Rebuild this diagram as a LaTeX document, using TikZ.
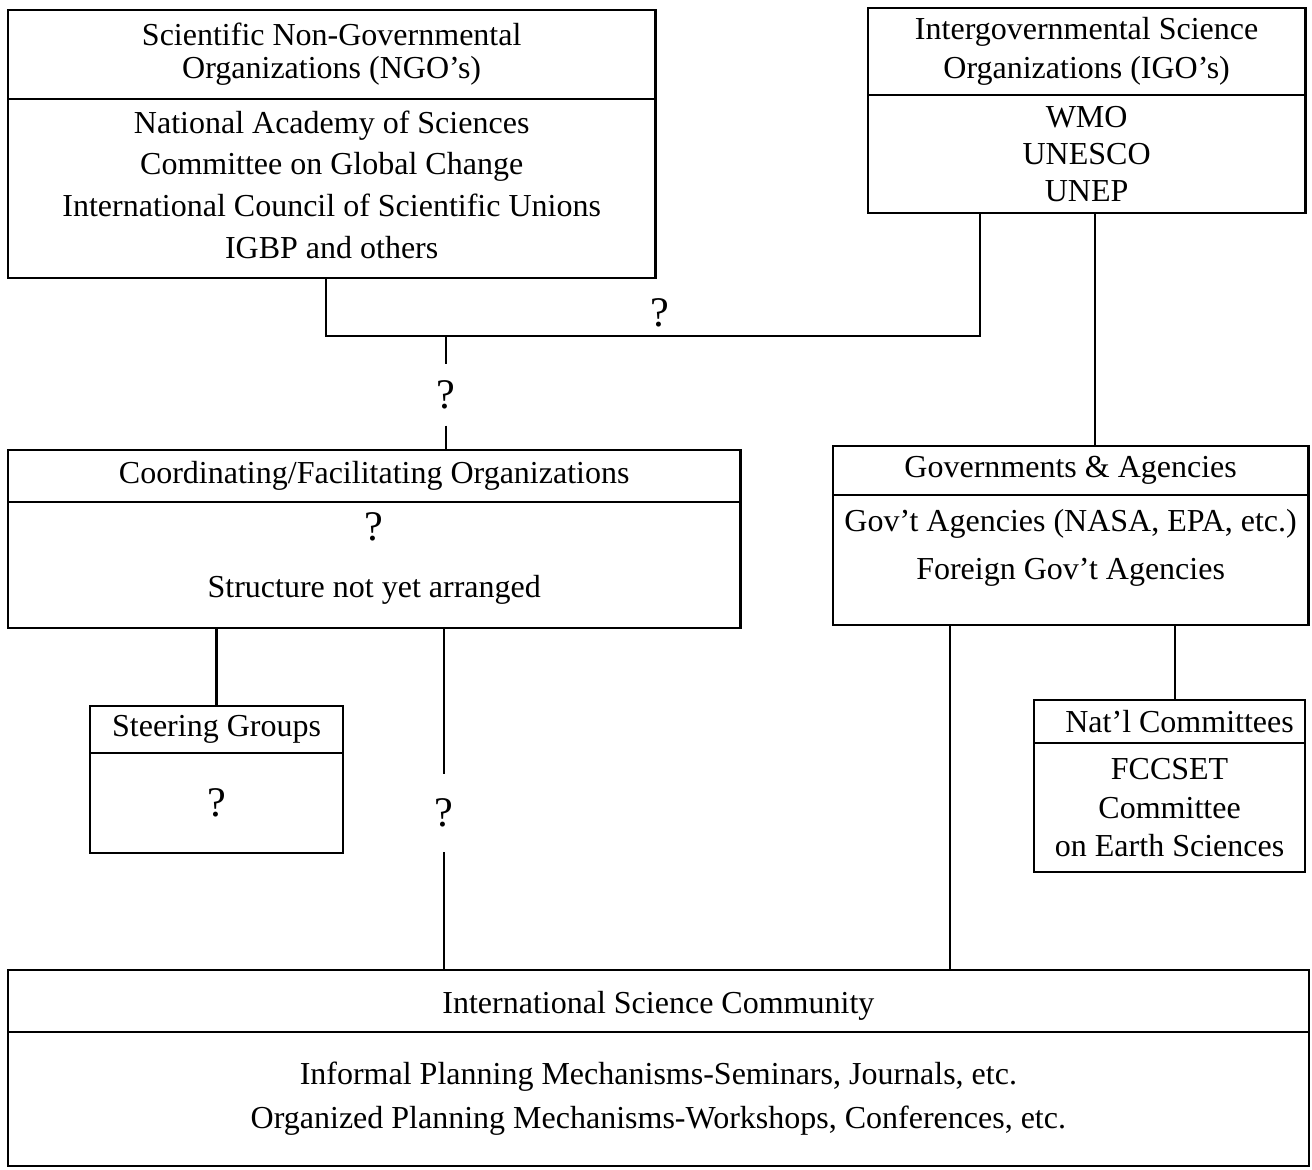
\documentclass[tikz,border=0pt]{standalone}
\usepackage{fontspec}
\setmainfont{Liberation Serif}
\usetikzlibrary{positioning}
\tikzset{%
  box/.style = {rectangle,draw,line width=0.7pt,align=center,inner sep=0pt,
        outer sep=0pt,font=\fontsize{9.1}{11}\selectfont},
  hd/.style = {box,anchor=north west},
  qm/.style = {inner sep=0pt,font=\large},
  link/.style = {line width=0.7pt}
}

\begin{document}
\begin{tikzpicture}[x=0.01cm,y=-0.01cm]
\useasboundingbox (0,0) rectangle (1312,1169);
% top row
\node[hd,minimum width=6.47cm,minimum height=0.89cm] (ngoh) at (8,10)
    {Scientific Non-Governmental\\[-1.6pt]Organizations (NGO's)};
\node[box,minimum width=6.47cm,minimum height=1.79cm,below=0pt of ngoh] (ngob)
    {National Academy of Sciences\\[0.9pt]Committee on Global Change\\[0.9pt]International Council of Scientific Unions\\[0.9pt]IGBP and others\\[-8.7pt]\mbox{}};
\node[hd,minimum width=4.37cm,minimum height=0.87cm] (igoh) at (868,8)
    {Intergovernmental Science\\Organizations (IGO's)};
\node[box,minimum width=4.37cm,minimum height=1.18cm,below=0pt of igoh] (igob)
    {WMO\\[-0.6pt]UNESCO\\[-0.6pt]UNEP};
% middle row
\node[hd,minimum width=7.32cm,minimum height=0.52cm] (cordh) at (8,450)
    {Coordinating/Facilitating Organizations};
\node[box,minimum width=7.32cm,minimum height=1.26cm,below=0pt of cordh] (cordb)
    {{\large ?}\\[5pt]Structure not yet arranged\\[-5.3pt]\mbox{}};
\node[hd,minimum width=4.75cm,minimum height=0.49cm] (govh) at (833,446)
    {Governments \& Agencies};
\node[box,minimum width=4.75cm,minimum height=1.30cm,below=0pt of govh] (govb)
    {Gov't Agencies (NASA, EPA, etc.)\\[2.6pt]Foreign Gov't Agencies\\[-2.2pt]\mbox{}};
\node[hd,minimum width=2.53cm,minimum height=0.47cm] (steerh) at (90,706)
    {Steering Groups};
\node[box,minimum width=2.53cm,minimum height=1.00cm,below=0pt of steerh] (steerb)
    {{\large ?}};
\node[hd,minimum width=2.71cm,minimum height=0.43cm] (natlh) at (1034,700)
    {\hspace{0.2cm}Nat'l Committees};
\node[box,minimum width=2.71cm,minimum height=1.29cm,below=0pt of natlh] (natlb)
    {FCCSET\\Committee\\on Earth Sciences};
% bottom
\node[hd,minimum width=13.00cm,minimum height=0.62cm] (isch) at (8,970)
    {\mbox{}\\[-1.8pt]International Science Community};
\node[box,minimum width=13.00cm,minimum height=1.34cm,below=0pt of isch] (iscb)
    {Informal Planning Mechanisms-Seminars, Journals, etc.\\[1.5pt]Organized Planning Mechanisms-Workshops, Conferences, etc.};
% links
\coordinate (jn) at (446,336);
\draw[link] ([xshift=-0.055cm]ngob.south) |- (jn) -| ([xshift=-1.065cm]igob.south);
\node[qm] (q1) at (660,313) {?};
\node[qm,minimum height=0.6cm] (q2) at (446,395) {?};
\draw[link] (jn) -- (q2.north);
\draw[link] (q2.south) -- (q2.south |- cordh.north);
\draw[link] ([xshift=0.085cm]igob.south) coordinate (t1) -- (t1 |- govh.north);
\draw[link] (steerh.north) -- (steerh.north |- cordb.south);
\node[qm,minimum height=0.77cm] (q3) at (444,813) {?};
\draw[link] (q3.north) -- (q3.north |- cordb.south);
\draw[link] (q3.south) -- (q3.south |- isch.north);
\draw[link] ([xshift=-1.205cm]govb.south) coordinate (t2) -- (t2 |- isch.north);
\draw[link] ([xshift=0.055cm]natlh.north) coordinate (t3) -- (t3 |- govb.south);
\end{tikzpicture}
\end{document}
